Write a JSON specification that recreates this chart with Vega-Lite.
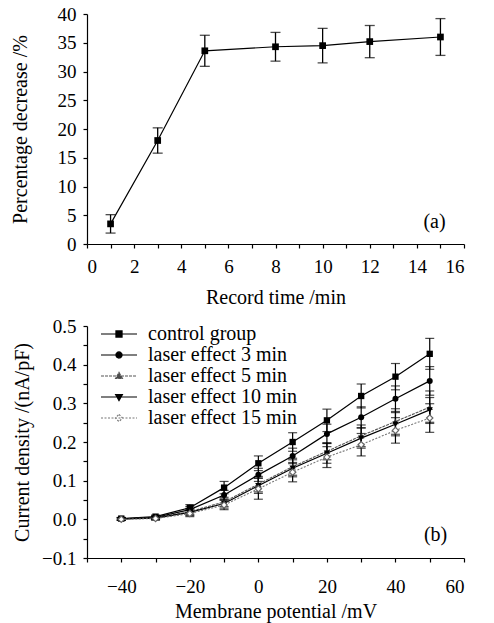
{
  "$schema": "https://vega.github.io/schema/vega-lite/v6.json",
  "padding": {"left": 10, "top": 5, "right": 5, "bottom": 3},
  "spacing": 10,
  "config": {
    "font": "Liberation Serif",
    "view": {"stroke": null},
    "style": {"guide-label": {"font": "Liberation Serif"}, "guide-title": {"font": "Liberation Serif"}},
    "axis": {
      "grid": false, "domainColor": "black", "tickColor": "black", "labelColor": "black", "titleColor": "black",
      "labelFont": "Liberation Serif", "titleFont": "Liberation Serif", "labelFontSize": 19, "titleFontSize": 20,
      "titleFontWeight": "normal", "tickSize": 4, "labelPadding": 6, "domainWidth": 1.2, "tickWidth": 1.2
    },
    "legend": {
      "labelFont": "Liberation Serif", "labelFontSize": 20, "labelColor": "black", "symbolSize": 256,
      "symbolStrokeWidth": 1.2, "rowPadding": 1, "symbolOffset": 10, "labelOffset": 19
    }
  },
  "datasets": {
    "a": [
      {"t": 1, "y": 3.5, "e": 1.6},
      {"t": 3, "y": 18.0, "e": 2.2},
      {"t": 5, "y": 33.6, "e": 2.7},
      {"t": 8, "y": 34.3, "e": 2.5},
      {"t": 10, "y": 34.5, "e": 3.0},
      {"t": 12, "y": 35.2, "e": 2.8},
      {"t": 15, "y": 36.0, "e": 3.2}
    ],
    "b": [
      {"v": -40, "g": "control group", "y": 0.002, "e": 0.003},
      {"v": -30, "g": "control group", "y": 0.007, "e": 0.004},
      {"v": -20, "g": "control group", "y": 0.030, "e": 0.008},
      {"v": -10, "g": "control group", "y": 0.082, "e": 0.016},
      {"v": 0, "g": "control group", "y": 0.145, "e": 0.019},
      {"v": 10, "g": "control group", "y": 0.200, "e": 0.024},
      {"v": 20, "g": "control group", "y": 0.256, "e": 0.029},
      {"v": 30, "g": "control group", "y": 0.319, "e": 0.031},
      {"v": 40, "g": "control group", "y": 0.369, "e": 0.034},
      {"v": 50, "g": "control group", "y": 0.428, "e": 0.040},
      {"v": -40, "g": "laser effect 3 min", "y": 0.001, "e": 0.003},
      {"v": -30, "g": "laser effect 3 min", "y": 0.005, "e": 0.004},
      {"v": -20, "g": "laser effect 3 min", "y": 0.025, "e": 0.008},
      {"v": -10, "g": "laser effect 3 min", "y": 0.063, "e": 0.012},
      {"v": 0, "g": "laser effect 3 min", "y": 0.115, "e": 0.017},
      {"v": 10, "g": "laser effect 3 min", "y": 0.164, "e": 0.020},
      {"v": 20, "g": "laser effect 3 min", "y": 0.221, "e": 0.025},
      {"v": 30, "g": "laser effect 3 min", "y": 0.264, "e": 0.027},
      {"v": 40, "g": "laser effect 3 min", "y": 0.312, "e": 0.033},
      {"v": 50, "g": "laser effect 3 min", "y": 0.358, "e": 0.037},
      {"v": -40, "g": "laser effect 5 min", "y": 0.001, "e": 0.003},
      {"v": -30, "g": "laser effect 5 min", "y": 0.004, "e": 0.004},
      {"v": -20, "g": "laser effect 5 min", "y": 0.020, "e": 0.008},
      {"v": -10, "g": "laser effect 5 min", "y": 0.045, "e": 0.012},
      {"v": 0, "g": "laser effect 5 min", "y": 0.091, "e": 0.020},
      {"v": 10, "g": "laser effect 5 min", "y": 0.136, "e": 0.022},
      {"v": 20, "g": "laser effect 5 min", "y": 0.176, "e": 0.022},
      {"v": 30, "g": "laser effect 5 min", "y": 0.216, "e": 0.028},
      {"v": 40, "g": "laser effect 5 min", "y": 0.253, "e": 0.033},
      {"v": 50, "g": "laser effect 5 min", "y": 0.290, "e": 0.042},
      {"v": -40, "g": "laser effect 10 min", "y": 0.001, "e": 0.003},
      {"v": -30, "g": "laser effect 10 min", "y": 0.003, "e": 0.004},
      {"v": -20, "g": "laser effect 10 min", "y": 0.018, "e": 0.008},
      {"v": -10, "g": "laser effect 10 min", "y": 0.041, "e": 0.012},
      {"v": 0, "g": "laser effect 10 min", "y": 0.087, "e": 0.020},
      {"v": 10, "g": "laser effect 10 min", "y": 0.132, "e": 0.022},
      {"v": 20, "g": "laser effect 10 min", "y": 0.171, "e": 0.026},
      {"v": 30, "g": "laser effect 10 min", "y": 0.210, "e": 0.026},
      {"v": 40, "g": "laser effect 10 min", "y": 0.246, "e": 0.030},
      {"v": 50, "g": "laser effect 10 min", "y": 0.283, "e": 0.032},
      {"v": -40, "g": "laser effect 15 min", "y": 0.000, "e": 0.003},
      {"v": -30, "g": "laser effect 15 min", "y": 0.002, "e": 0.004},
      {"v": -20, "g": "laser effect 15 min", "y": 0.015, "e": 0.008},
      {"v": -10, "g": "laser effect 15 min", "y": 0.037, "e": 0.012},
      {"v": 0, "g": "laser effect 15 min", "y": 0.079, "e": 0.027},
      {"v": 10, "g": "laser effect 15 min", "y": 0.122, "e": 0.025},
      {"v": 20, "g": "laser effect 15 min", "y": 0.161, "e": 0.027},
      {"v": 30, "g": "laser effect 15 min", "y": 0.193, "e": 0.029},
      {"v": 40, "g": "laser effect 15 min", "y": 0.230, "e": 0.033},
      {"v": 50, "g": "laser effect 15 min", "y": 0.262, "e": 0.037}
    ]
  },
  "vconcat": [
    {
      "width": 377,
      "height": 230,
      "data": {"name": "a"},
      "encoding": {
        "x": {"field": "t", "type": "quantitative", "title": "Record time /min",
          "scale": {"domain": [0, 16], "nice": false},
          "axis": {"values": [0,1,2,3,4,5,6,7,8,9,10,11,12,13,14,15,16], "labelExpr": "datum.value % 2 === 0 ? datum.label : ''", "labelPadding": 9, "titlePadding": 11}},
        "y": {"field": "y", "type": "quantitative", "title": "Percentage decrease /%",
          "scale": {"domain": [0, 40], "nice": false},
          "axis": {"values": [0,5,10,15,20,25,30,35,40], "labelPadding": 7, "titlePadding": 27}}
      },
      "layer": [
        {"mark": {"type": "errorbar", "color": "black", "thickness": 1.3, "ticks": {"size": 10, "thickness": 1.3}},
         "encoding": {"yError": {"field": "e"}}},
        {"mark": {"type": "line", "color": "black", "strokeWidth": 1.2}},
        {"mark": {"type": "point", "shape": "square", "filled": true, "color": "black", "opacity": 1, "size": 45}},
        {"transform": [{"filter": "datum.t === 15"}],
         "mark": {"type": "text", "text": "(a)", "fontSize": 20, "font": "Liberation Serif", "color": "black"},
         "encoding": {"x": {"datum": 14.75, "type": "quantitative"}, "y": {"datum": 3.9, "type": "quantitative"}}}
      ]
    },
    {
      "width": 377,
      "height": 232,
      "data": {"name": "b"},
      "encoding": {
        "x": {"field": "v", "type": "quantitative", "title": "Membrane potential /mV",
          "scale": {"domain": [-50, 60], "nice": false},
          "axis": {"values": [-50,-40,-30,-20,-10,0,10,20,30,40,50,60], "labelExpr": "datum.value % 20 === 0 ? datum.label : ''", "labelPadding": 15, "titlePadding": 5}},
        "y": {"field": "y", "type": "quantitative", "title": "Current density /(nA/pF)",
          "scale": {"domain": [-0.1, 0.5], "nice": false},
          "axis": {"values": [-0.1,-0.05,0,0.05,0.1,0.15,0.2,0.25,0.3,0.35,0.4,0.45,0.5], "labelExpr": "abs(round(datum.value*20)) % 2 === 0 ? format(datum.value, '.1f') : ''", "labelPadding": 7, "titlePadding": 9}}
      },
      "layer": [
        {"mark": {"type": "errorbar", "color": "black", "thickness": 1.2, "ticks": {"size": 9, "thickness": 1.2}},
         "encoding": {"yError": {"field": "e"}, "detail": {"field": "g"}}},
        {"transform": [{"filter": "datum.g === 'control group'"}],
         "mark": {"type": "line", "color": "black", "strokeWidth": 1.2}},
        {"transform": [{"filter": "datum.g === 'laser effect 3 min'"}],
         "mark": {"type": "line", "color": "black", "strokeWidth": 1.2}},
        {"transform": [{"filter": "datum.g === 'laser effect 5 min'"}],
         "mark": {"type": "line", "color": "#555555", "strokeWidth": 1.1, "strokeDash": [3, 1]}},
        {"transform": [{"filter": "datum.g === 'laser effect 10 min'"}],
         "mark": {"type": "line", "color": "black", "strokeWidth": 1.2}},
        {"transform": [{"filter": "datum.g === 'laser effect 15 min'"}],
         "mark": {"type": "line", "color": "#777777", "strokeWidth": 1.1, "strokeDash": [2, 1.5]}},
        {"transform": [{"filter": "datum.g === 'control group'"}],
         "mark": {"type": "point", "shape": "square", "filled": true, "color": "black", "opacity": 1, "size": 40}},
        {"transform": [{"filter": "datum.g === 'laser effect 3 min'"}],
         "mark": {"type": "point", "shape": "circle", "filled": true, "color": "black", "opacity": 1, "size": 36}},
        {"transform": [{"filter": "datum.g === 'laser effect 5 min'"}],
         "mark": {"type": "point", "shape": "triangle-up", "filled": true, "color": "#333333", "opacity": 1, "size": 40}},
        {"transform": [{"filter": "datum.g === 'laser effect 10 min'"}],
         "mark": {"type": "point", "shape": "triangle-down", "filled": true, "color": "black", "opacity": 1, "size": 40}},
        {"transform": [{"filter": "datum.g === 'laser effect 15 min'"}],
         "mark": {"type": "point", "shape": "diamond", "filled": false, "color": "#666666", "fill": "white", "strokeWidth": 1.2, "opacity": 1, "size": 40}},
        {"transform": [{"filter": "false"}],
         "mark": {"type": "point", "opacity": 1, "size": 256, "strokeWidth": 1.2},
         "encoding": {
           "shape": {"field": "g", "type": "nominal",
             "scale": {"domain": ["control group","laser effect 3 min","laser effect 5 min","laser effect 10 min","laser effect 15 min"],
               "range": [
                 "M-2.25,0H2.25M-0.38,-0.38H0.38V0.38H-0.38Z",
                 "M-2.25,0H2.25M-0.38,0A0.38,0.38 0 1,0 0.38,0A0.38,0.38 0 1,0 -0.38,0Z",
                 "M-2.25,0H2.25M0,-0.45L0.42,0.3H-0.42Z",
                 "M-2.25,0H2.25M0,0.45L0.42,-0.3H-0.42Z",
                 "M-2.25,0H2.25M0,-0.45L0.45,0L0,0.45L-0.45,0Z"
               ]},
             "legend": {"title": null, "orient": "none", "legendX": 12, "legendY": 310}},
           "fill": {"field": "g", "type": "nominal",
             "scale": {"domain": ["control group","laser effect 3 min","laser effect 5 min","laser effect 10 min","laser effect 15 min"], "range": ["black","black","#444444","black","white"]},
             "legend": {"title": null, "orient": "none", "legendX": 12, "legendY": 310}},
           "stroke": {"field": "g", "type": "nominal",
             "scale": {"domain": ["control group","laser effect 3 min","laser effect 5 min","laser effect 10 min","laser effect 15 min"], "range": ["black","black","#555555","black","#777777"]},
             "legend": {"title": null, "orient": "none", "legendX": 12, "legendY": 310}},
           "strokeDash": {"field": "g", "type": "nominal",
             "scale": {"domain": ["control group","laser effect 3 min","laser effect 5 min","laser effect 10 min","laser effect 15 min"], "range": [[1,0],[1,0],[3,1],[1,0],[2,1.5]]},
             "legend": {"title": null, "orient": "none", "legendX": 12, "legendY": 310}}
         }},
        {"transform": [{"filter": "datum.v === 50 && datum.g === 'control group'"}],
         "mark": {"type": "text", "text": "(b)", "fontSize": 20, "font": "Liberation Serif", "color": "black"},
         "encoding": {"x": {"datum": 51.7, "type": "quantitative"}, "y": {"datum": -0.041, "type": "quantitative"}}}
      ]
    }
  ]
}
